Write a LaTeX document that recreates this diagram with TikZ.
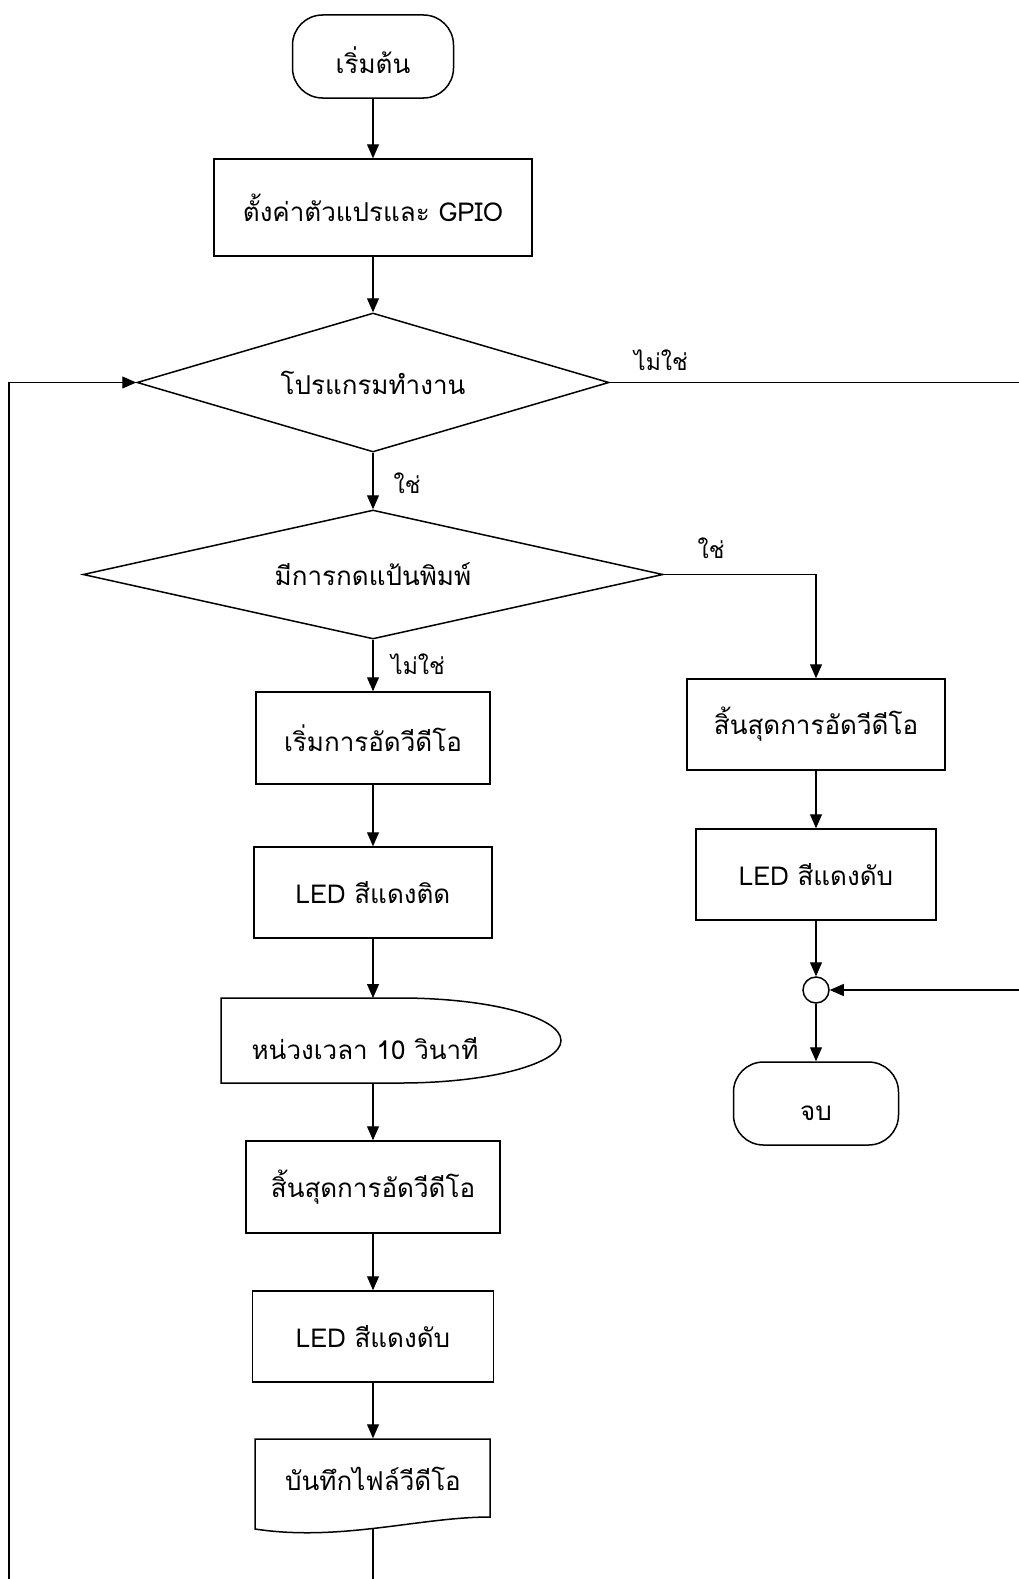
\documentclass[tikz,border=0pt]{standalone}
\usepackage{fontspec}
\newfontfamily\thaifont[Script=Thai]{Loma}
\usetikzlibrary{arrows.meta,shapes.geometric}
\tikzset{
  shp/.style={draw, line width=1.5pt, font=\thaifont\fontsize{26}{30}\selectfont, inner sep=0pt, align=center},
  proc/.style={shp, rectangle},
  term/.style={shp, rectangle, rounded corners=30pt, text height=34pt, text depth=0pt},
  dec/.style={shp, diamond},
  conn/.style={line width=1.1pt, -{Triangle[length=14pt,width=12pt]}},
  plain/.style={line width=1.1pt},
  lbl/.style={font=\thaifont\fontsize{23}{26}\selectfont, inner sep=0pt},
}
\begin{document}
\begin{tikzpicture}[x=1pt,y=-1pt]
\useasboundingbox (0,0) rectangle (1019,1579);
\fill[white] (0,0) rectangle (1019,1579);
% left column
\node[term, minimum width=161pt, minimum height=83pt] (start) at (373,56.5) {เริ่มต้น};
\node[proc, minimum width=318pt, minimum height=97pt] (init) at (373,207.5) {ตั้งค่าตัวแปรและ GPIO};
\node[dec, aspect=3.4, minimum width=472pt, minimum height=139pt] (d1) at (373,382.5) {โปรแกรมทำงาน};
\node[dec, aspect=4.5, minimum width=580pt, minimum height=129pt] (d2) at (373,574.5) {มีการกดแป้นพิมพ์};
\node[proc, minimum width=234pt, minimum height=92pt] (rec) at (373,738) {เริ่มการอัดวีดีโอ};
\node[proc, minimum width=238pt, minimum height=91pt] (ledon) at (373,892.5) {LED สีแดงติด};
\node[shp, draw=none, anchor=center] (delay) at (365,1049) {หน่วงเวลา 10 วินาที};
\draw[line width=1.5pt] (221,998) -- (400,998) arc[start angle=90, end angle=-90, x radius=161pt, y radius=42.5pt] -- (221,1083) -- cycle;
\coordinate (delaytop) at (373,998);
\coordinate (delaybot) at (373,1083);
\node[proc, minimum width=254pt, minimum height=92pt] (stop1) at (373,1187) {สิ้นสุดการอัดวีดีโอ};
\node[proc, minimum width=241pt, minimum height=91pt] (ledoff1) at (373,1336.5) {LED สีแดงดับ};
\node[shp, draw=none, rectangle, minimum width=235pt, minimum height=80pt] (save) at (373,1479) {บันทึกไฟล์วีดีโอ};
\draw[line width=1.5pt] (255,1439) -- (490,1439) -- (490,1517) .. controls (420,1517) and (340,1542) .. (255,1529) -- cycle;
\coordinate (savebot) at (373,1528);
\coordinate (sbot) at (373,1579);
% right column
\node[proc, minimum width=258pt, minimum height=91pt] (stopR) at (816,724.5) {สิ้นสุดการอัดวีดีโอ};
\node[proc, minimum width=240pt, minimum height=91pt] (ledoffR) at (816,874.5) {LED สีแดงดับ};
\node[circle, draw, line width=1.5pt, minimum size=26pt, inner sep=0pt] (join) at (816,990) {};
\node[term, minimum width=165pt, minimum height=83pt] (end) at (816,1103.5) {จบ};
% edge coordinates
\coordinate (rtop) at (1019,382.5);
\coordinate (rjoin) at (1019,990);
\coordinate (ltop) at (9,382.5);
\coordinate (lbot) at (9,1579);
% connectors
\draw[conn] (start) -- (init);
\draw[conn] (init) -- (d1);
\draw[conn] (d1) -- (d2);
\draw[conn] (d2) -- (rec);
\draw[conn] (rec) -- (ledon);
\draw[conn] (ledon) -- (delaytop);
\draw[conn] (delaybot) -- (stop1);
\draw[conn] (stop1) -- (ledoff1);
\draw[conn] (ledoff1) -- (save.north);
\draw[plain] (savebot) -- (sbot);
\draw[conn] (lbot) -- (ltop) -- (d1.west);
\draw[plain] (d1.east) -- (rtop);
\draw[conn] (d2.east) -| (stopR.north);
\draw[conn] (stopR) -- (ledoffR);
\draw[conn] (ledoffR) -- (join);
\draw[conn] (join) -- (end);
\draw[conn] (rjoin) -- (join.east);
% labels
\node[lbl] (lno1) at (661,360) {ไม่ใช่};
\node[lbl] (lyes1) at (407,483) {ใช่};
\node[lbl] (lyes2) at (711,548) {ใช่};
\node[lbl] (lno2) at (418,664) {ไม่ใช่};
\end{tikzpicture}
\end{document}
